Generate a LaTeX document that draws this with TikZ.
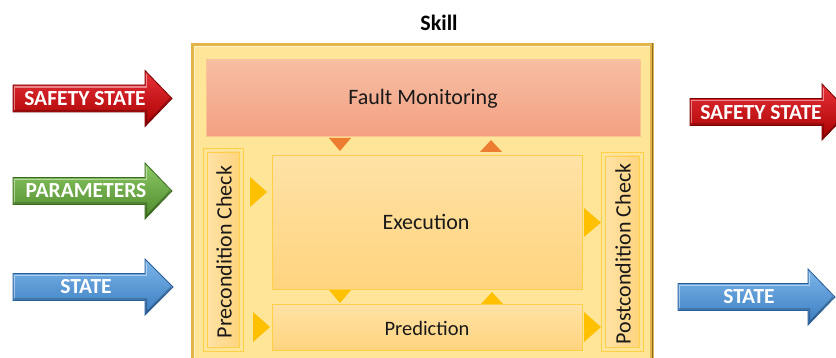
\documentclass[tikz,border=0pt]{standalone}
\usepackage{fontspec}
\setmainfont{Carlito}
\begin{document}
\begin{tikzpicture}[x=1pt,y=-1pt,
  lbl/.style={font=\fontsize{21.5}{22}\selectfont\bfseries, text=white, inner sep=0pt},
  boxtxt/.style={font=\fontsize{22}{23}\selectfont, text=black!90, inner sep=0pt},
  tri/.style={fill=#1, draw=none},
]
\definecolor{outerfill}{HTML}{FFE597}
\definecolor{outerdraw}{HTML}{E2B449}
\definecolor{subtop}{HTML}{FFE2A6}
\definecolor{subbot}{HTML}{FFD47E}
\definecolor{subdraw}{HTML}{FFCF4A}
\definecolor{fmtop}{HTML}{F6BEA4}
\definecolor{fmbot}{HTML}{F4A081}
\definecolor{fmdraw}{HTML}{F9C48F}
\definecolor{orangetri}{HTML}{ED7D31}
\definecolor{goldtri}{HTML}{FFC000}
\definecolor{redtop}{HTML}{E8323A}
\definecolor{redbot}{HTML}{A80000}
\definecolor{reddraw}{HTML}{7A0000}
\definecolor{greentop}{HTML}{8CC864}
\definecolor{greenbot}{HTML}{4E8A2C}
\definecolor{greendraw}{HTML}{3A6A20}
\definecolor{bluetop}{HTML}{7DB6EA}
\definecolor{bluebot}{HTML}{3A7CC0}
\definecolor{bluedraw}{HTML}{2A5E96}
\useasboundingbox (0,0) rectangle (836,358);

% generic bevelled arrow: #1 x-start, #2 head-start x, #3 tip x, #4 yc, #5 top, #6 bottom, #7 border
\newcommand{\bevelarrow}[7]{%
  \shade[top color=#5, bottom color=#6, draw=#7, line width=0.8pt]
    (#1,#4-13.5) -- (#2,#4-13.5) -- (#2,#4-28) -- (#3,#4) -- (#2,#4+28) -- (#2,#4+13.5) -- (#1,#4+13.5) -- cycle;
  \draw[white, opacity=0.45, line width=1.2pt] (#1+1.5,#4+11.5) -- (#1+1.5,#4-11.5) -- (#2+1.5,#4-11.5) -- (#2+1.5,#4-24);
  \draw[black, opacity=0.25, line width=1.2pt] (#1+1.5,#4+12) -- (#2+1.5,#4+12) -- (#2+1.5,#4+25) -- (#3-2,#4);
}

% ---- Title
\node[font=\fontsize{22}{23}\selectfont\bfseries, inner sep=0pt] (title) at (439,23) {Skill};

% ---- Outer skill box
\fill[outerdraw] (191,43) rectangle (654,360);
\fill[outerfill] (194,46) rectangle (650,360);
\draw[white, opacity=0.5, line width=1.2pt] (194.5,359) -- (194.5,46.5) -- (650,46.5);
\draw[black!40!outerdraw, line width=1.5pt] (652.5,43) -- (652.5,360);
\coordinate (skill) at (422,200);

% ---- Fault Monitoring
\shade[top color=fmtop, bottom color=fmbot, draw=fmdraw, line width=0.8pt] (206,60) rectangle (640,136);
\node[boxtxt] (fm) at (423,99) {Fault Monitoring};

% ---- Precondition Check
\draw[subdraw, line width=0.8pt, fill=outerfill] (203,148) rectangle (243,351);
\shade[left color=subtop, right color=subbot, draw=subdraw, line width=0.6pt] (207,152) rectangle (239,347);
\node[boxtxt, rotate=90] (pre) at (224,252) {Precondition Check};

% ---- Postcondition Check
\draw[subdraw, line width=0.8pt, fill=outerfill] (601,152) rectangle (643,351);
\shade[left color=subtop, right color=subbot, draw=subdraw, line width=0.6pt] (605,156) rectangle (639,347);
\node[boxtxt, rotate=90] (post) at (623,254) {Postcondition Check};

% ---- Execution
\shade[top color=subtop, bottom color=subbot, draw=subdraw, line width=0.8pt] (272,155) rectangle (582,289);
\node[boxtxt] (exec) at (426,222) {Execution};

% ---- Prediction
\shade[top color=subtop, bottom color=subbot, draw=subdraw, line width=0.8pt] (272,304) rectangle (582,350);
\node[boxtxt, font=\fontsize{20.5}{21}\selectfont] (pred) at (427,328) {Prediction};

% ---- small triangles (flow markers)
\fill[tri=orangetri] (329,138) -- (351,138) -- (340,151) -- cycle;
\fill[tri=orangetri] (480,152) -- (502,152) -- (491,140) -- cycle;
\fill[tri=goldtri] (250,177) -- (267,192) -- (250,207) -- cycle;
\fill[tri=goldtri] (253,312) -- (270,327) -- (253,342) -- cycle;
\fill[tri=goldtri] (584,208) -- (601,222.5) -- (584,237) -- cycle;
\fill[tri=goldtri] (584,312) -- (601,327) -- (584,342) -- cycle;
\fill[tri=goldtri] (329,290) -- (351,290) -- (340,303) -- cycle;
\fill[tri=goldtri] (481,304) -- (503,304) -- (492,292) -- cycle;

% ---- Input arrows
\bevelarrow{13}{145}{172}{98.5}{redtop}{redbot}{reddraw}
\node[lbl] (inSafety) at (85,99) {SAFETY STATE};
\bevelarrow{13}{145}{172}{191}{greentop}{greenbot}{greendraw}
\node[lbl] (inParams) at (86,191) {PARAMETERS};
\bevelarrow{13}{145}{173}{287}{bluetop}{bluebot}{bluedraw}
\node[lbl] (inState) at (86,287) {STATE};

% ---- Output arrows
\begin{scope}
\clip (0,0) rectangle (836,358);
\bevelarrow{690}{822}{849}{112}{redtop}{redbot}{reddraw}
\bevelarrow{678}{808}{835}{297}{bluetop}{bluebot}{bluedraw}
\end{scope}
\node[lbl] (outSafety) at (761,113) {SAFETY STATE};
\node[lbl] (outState) at (749,297) {STATE};
\end{tikzpicture}
\end{document}
